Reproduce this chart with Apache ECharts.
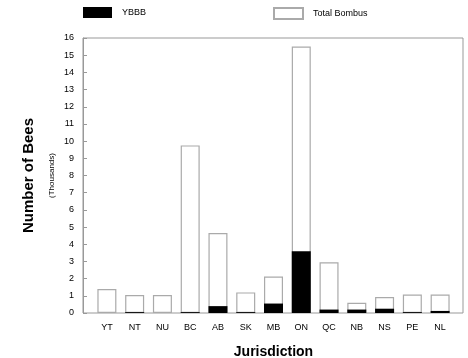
<!DOCTYPE html>
<html>
<head>
<meta charset="utf-8">
<script src="https://cdn.jsdelivr.net/npm/echarts@6/dist/echarts.min.js"></script>
<style>html,body{margin:0;padding:0;background:#fff}#c{width:468px;height:358px}</style>
</head>
<body>
<div id="c"></div>
<script>
var categories = ['YT','NT','NU','BC','AB','SK','MB','ON','QC','NB','NS','PE','NL'];
var totalBombus = [1.4, 1.05, 1.05, 9.75, 4.65, 1.2, 2.12, 15.5, 2.95, 0.6, 0.93, 1.07, 1.07];
var ybbb = [0, 0.05, 0, 0.05, 0.4, 0.05, 0.55, 3.6, 0.2, 0.2, 0.25, 0.05, 0.12];
var yTicks = {min: 0, max: 16, interval: 1};

var font = 'Liberation Sans, Arial, sans-serif';
var chart = echarts.init(document.getElementById('c'), null, {renderer: 'canvas'});
chart.setOption({
  animation: false,
  backgroundColor: '#fff',
  textStyle: {fontFamily: font},
  legend: [
    {data: [{name: 'YBBB', icon: 'rect'}], left: 83, top: 7, padding: 0, itemWidth: 29, itemHeight: 11,
     textStyle: {fontSize: 9, color: '#000', fontFamily: font, padding: [0, 0, 0, 5]}, selectedMode: false},
    {data: [{name: 'Total Bombus', icon: 'rect'}], left: 273, top: 7, padding: 0, itemWidth: 29, itemHeight: 11,
     textStyle: {fontSize: 9, color: '#000', fontFamily: font, padding: [0, 0, 0, 5]}, selectedMode: false}
  ],
  grid: [
    {left: 83, right: 5, top: 38, bottom: 45, show: true, borderColor: '#999', borderWidth: 1,
     backgroundColor: 'transparent', containLabel: false, outerBoundsMode: 'none'},
    {left: 93, right: 14, top: 38, bottom: 45, containLabel: false, outerBoundsMode: 'none'}
  ],
  xAxis: [
    {gridIndex: 0, type: 'value', show: false, min: 0, max: 1},
    {gridIndex: 1, type: 'category', data: categories,
     axisLine: {show: false}, axisTick: {show: false},
     axisLabel: {fontSize: 9, color: '#000', margin: 10, fontFamily: font},
     name: 'Jurisdiction', nameLocation: 'middle', nameGap: 32,
     nameTextStyle: {fontSize: 14, fontWeight: 'bold', color: '#000', fontFamily: font}}
  ],
  yAxis: [
    {gridIndex: 0, type: 'value', min: yTicks.min, max: yTicks.max, interval: yTicks.interval,
     axisLine: {show: true, lineStyle: {color: '#999'}},
     axisTick: {show: true, inside: true, length: 4, lineStyle: {color: '#999'}},
     splitLine: {show: false},
     axisLabel: {fontSize: 9, color: '#000', margin: 9, fontFamily: font},
     name: 'Number of Bees', nameLocation: 'middle', nameGap: 47,
     nameTextStyle: {fontSize: 15, fontWeight: 'bold', color: '#000', fontFamily: font}},
    {gridIndex: 1, type: 'value', min: yTicks.min, max: yTicks.max, interval: yTicks.interval,
     axisLine: {show: false}, axisTick: {show: false}, axisLabel: {show: false}, splitLine: {show: false},
     name: '(Thousands)', nameLocation: 'middle', nameGap: 37,
     nameTextStyle: {fontSize: 8, color: '#000', fontFamily: font}}
  ],
  series: [
    {name: 'Total Bombus', type: 'bar', xAxisIndex: 1, yAxisIndex: 1, data: totalBombus,
     barWidth: 19, barGap: '-100%',
     itemStyle: {color: '#fff', borderColor: '#aaa', borderWidth: 1.2}},
    {name: 'YBBB', type: 'bar', xAxisIndex: 1, yAxisIndex: 1, data: ybbb,
     barWidth: 19, barGap: '-100%',
     itemStyle: {color: '#000', borderWidth: 0}}
  ]
});
</script>
</body>
</html>
